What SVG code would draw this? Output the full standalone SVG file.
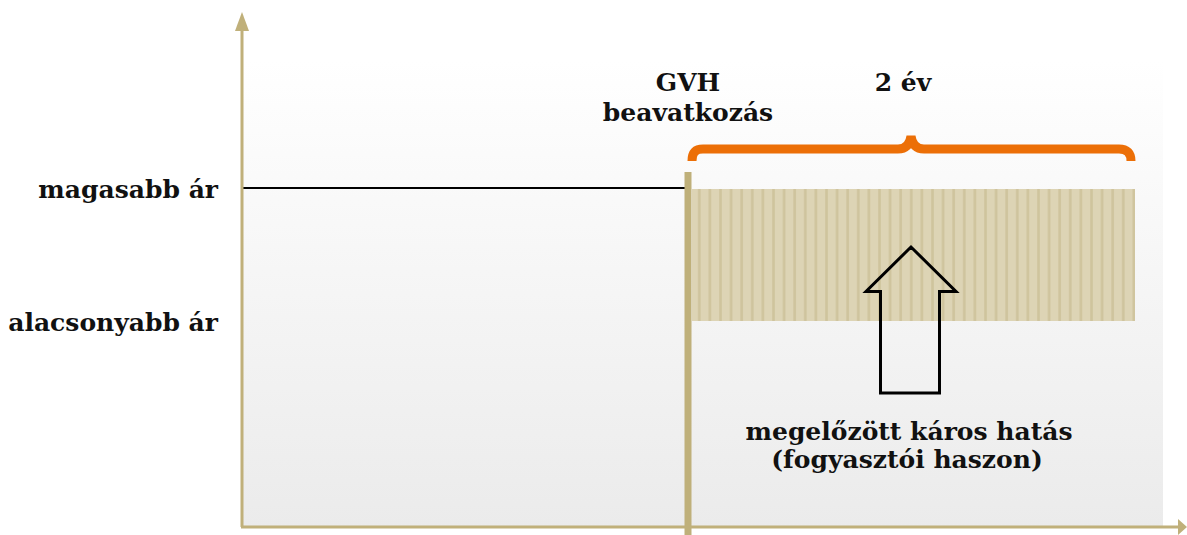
<svg xmlns="http://www.w3.org/2000/svg" width="1187" height="535" viewBox="0 0 1187 535">
<style>
.lbl{font-family:"DejaVu Serif","Liberation Serif",serif;font-weight:bold;font-size:25px;fill:#111;}
.axis{stroke:#c0b07a;stroke-width:3;fill:none;}
</style>
<defs>
<linearGradient id="bg" x1="0" y1="0" x2="0" y2="1">
<stop offset="0" stop-color="#ffffff"/>
<stop offset="1" stop-color="#ebebeb"/>
</linearGradient>
<pattern id="stripes" patternUnits="userSpaceOnUse" x="692" y="0" width="10.6" height="20">
<rect width="10.6" height="20" fill="#ddd4b5"/>
<rect x="6" width="2.6" height="20" fill="#cfc49d"/>
</pattern>
</defs>
<rect id="background" x="243" y="60" width="920" height="467" fill="url(#bg)"/>
<g id="benefit-area">
<rect x="692" y="189" width="443" height="132" fill="url(#stripes)"/>
</g>
<g id="connectors">
<line x1="242" y1="188" x2="685" y2="188" stroke="#000" stroke-width="2"/>
<line class="axis" x1="242" y1="527" x2="242" y2="28"/>
<polygon points="242,12 235,31 249,31" fill="#c0b07a"/>
<line class="axis" x1="241" y1="527" x2="1180" y2="527"/>
<polygon points="1187,527 1178,519 1178,535" fill="#c0b07a"/>
</g>
<g id="intervention-bar">
<rect x="684.5" y="172" width="7" height="363" fill="#bfb07a"/>
</g>
<g id="brace">
<path d="M692,161 C692,153 695,149 703,149 L898,149 C906,149 910,144 911,136 C912,144 916,149 924,149 L1119,149 C1127,149 1131,153 1131,161" fill="none" stroke="#ec6f07" stroke-width="9"/>
</g>
<g id="arrow">
<polygon points="911,247 866,291.5 880.5,291.5 880.5,393 939.5,393 939.5,291.5 956,291.5" fill="none" stroke="#000" stroke-width="3" stroke-linejoin="miter"/>
</g>
<g id="labels">
<text class="lbl" x="218" y="198" text-anchor="end">magasabb ár</text>
<text class="lbl" x="218" y="331" text-anchor="end">alacsonyabb ár</text>
<text class="lbl" x="688" y="91" text-anchor="middle">GVH</text>
<text class="lbl" x="688" y="121" text-anchor="middle">beavatkozás</text>
<text class="lbl" x="903" y="91" text-anchor="middle">2 év</text>
<text class="lbl" x="909" y="440" text-anchor="middle">megelőzött káros hatás</text>
<text class="lbl" x="907" y="468" text-anchor="middle">(fogyasztói haszon)</text>
</g>
</svg>
